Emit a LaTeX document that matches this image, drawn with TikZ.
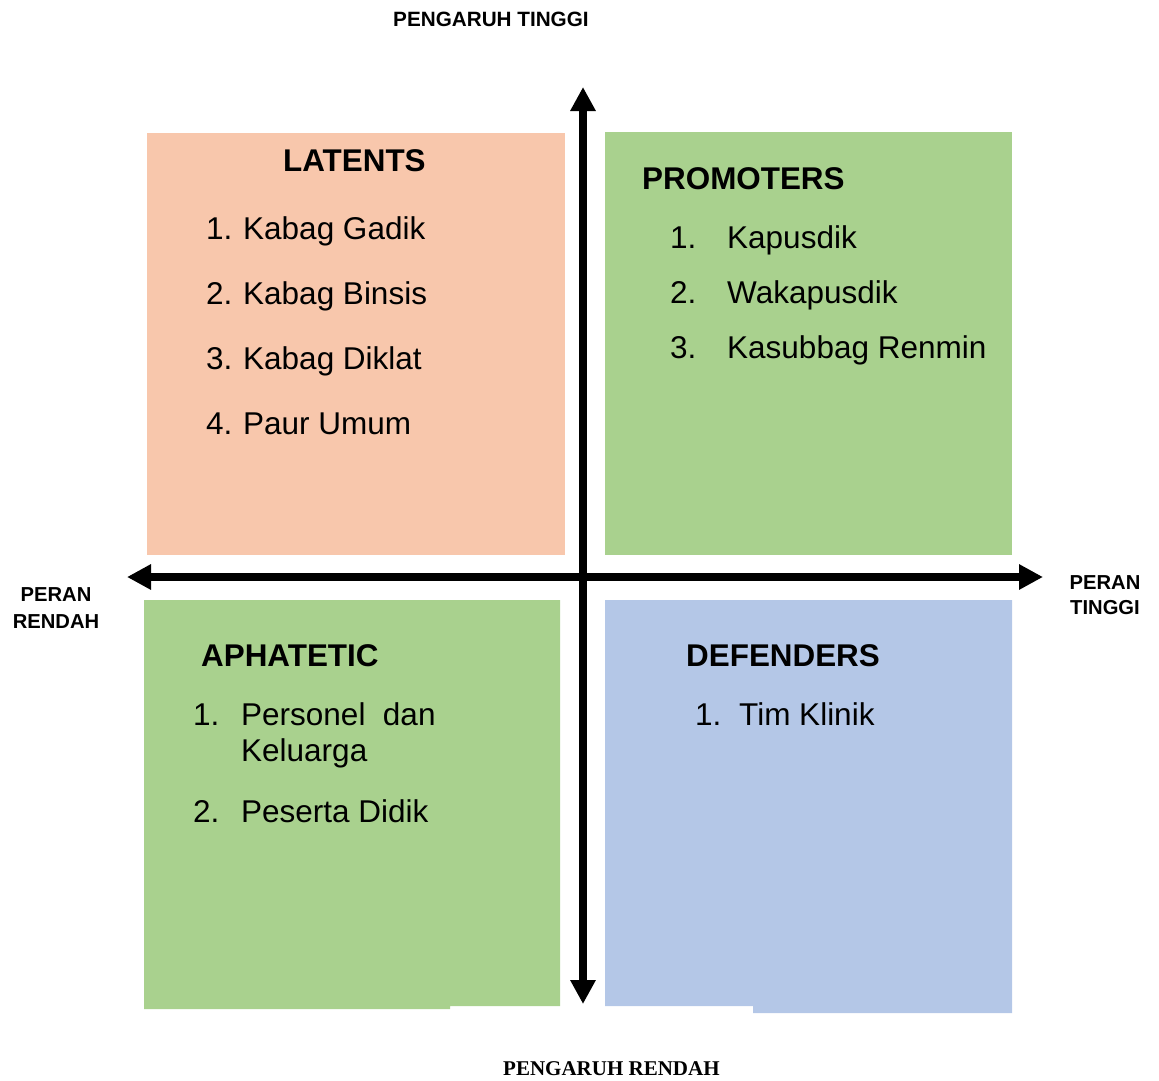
\documentclass[tikz,border=0pt]{standalone}
\usepackage{fontspec}
\setmainfont{Liberation Sans}
\newfontfamily\serifbold{Liberation Serif}
\usetikzlibrary{arrows.meta}
\definecolor{peach}{HTML}{F8C7AC}
\definecolor{qgreen}{HTML}{A9D18E}
\definecolor{qblue}{HTML}{B4C7E7}
\tikzset{
  head/.style={anchor=base west, inner sep=0pt, font=\fontsize{31.4}{37}\selectfont\bfseries},
  item/.style={anchor=base west, inner sep=0pt, font=\fontsize{31.5}{37}\selectfont},
  axislabel/.style={anchor=base, inner sep=0pt, align=center, font=\fontsize{20.2}{25}\selectfont\bfseries},
  axis/.style={line width=8.5pt, {Triangle[width=24pt,length=24pt]}-{Triangle[width=24pt,length=24pt]}}
}
\begin{document}
\begin{tikzpicture}[x=1pt,y=-1pt]
\useasboundingbox (0,0) rectangle (1159,1081);
% quadrants
\fill[peach] (147,133) rectangle (565,555);
\fill[qgreen] (605,132) rectangle (1012,555);
\fill[qgreen] (144,600) -- (560,600) -- (560,1006) -- (450,1006) -- (450,1009) -- (144,1009) -- cycle;
\fill[qblue] (605,600) -- (1012,600) -- (1012,1013) -- (753,1013) -- (753,1006) -- (605,1006) -- cycle;
% axes
\coordinate (vtop) at (583,87);
\coordinate (vbot) at (583,1004);
\coordinate (hleft) at (127,577);
\coordinate (hright) at (1043,577);
\draw[axis] (vbot) -- (vtop);
\draw[axis] (hleft) -- (hright);
% axis labels
\node[anchor=base west, inner sep=0pt, font=\fontsize{20.7}{25}\selectfont\bfseries] (ptop) at (393,27) {PENGARUH TINGGI};
\node[anchor=base west, inner sep=0pt, font=\fontsize{21}{25}\selectfont\serifbold\bfseries] (pbot) at (503,1075) {PENGARUH RENDAH};
\node[axislabel] (prl1) at (56,601) {PERAN};
\node[axislabel] (prl2) at (56,628) {RENDAH};
\node[axislabel] (prt1) at (1105,589) {PERAN};
\node[axislabel] (prt2) at (1105,614) {TINGGI};
% LATENTS
\node[head] (lat) at (283,171) {LATENTS};
\node[item] (l1n) at (206,239) {1.}; \node[item] (l1) at (243,239) {Kabag Gadik};
\node[item] (l2n) at (206,304) {2.}; \node[item] (l2) at (243,304) {Kabag Binsis};
\node[item] (l3n) at (206,369) {3.}; \node[item] (l3) at (243,369) {Kabag Diklat};
\node[item] (l4n) at (206,434) {4.}; \node[item] (l4) at (243,434) {Paur Umum};
% PROMOTERS
\node[head] (pro) at (642,189) {PROMOTERS};
\node[item] (p1n) at (670,248) {1.}; \node[item] (p1) at (727,248) {Kapusdik};
\node[item] (p2n) at (670,303) {2.}; \node[item] (p2) at (727,303) {Wakapusdik};
\node[item] (p3n) at (670,358) {3.}; \node[item] (p3) at (727,358) {Kasubbag Renmin};
% APHATETIC
\node[head] (aph) at (201,666) {APHATETIC};
\node[item] (a1n) at (193,725) {1.}; \node[item] (a1) at (241,725) {Personel\ \ dan};
\node[item] (a1b) at (241,761) {Keluarga};
\node[item] (a2n) at (193,822) {2.}; \node[item] (a2) at (241,822) {Peserta Didik};
% DEFENDERS
\node[head] (def) at (686,666) {DEFENDERS};
\node[item] (d1n) at (695,725) {1.}; \node[item] (d1) at (739,725) {Tim Klinik};
\end{tikzpicture}
\end{document}
